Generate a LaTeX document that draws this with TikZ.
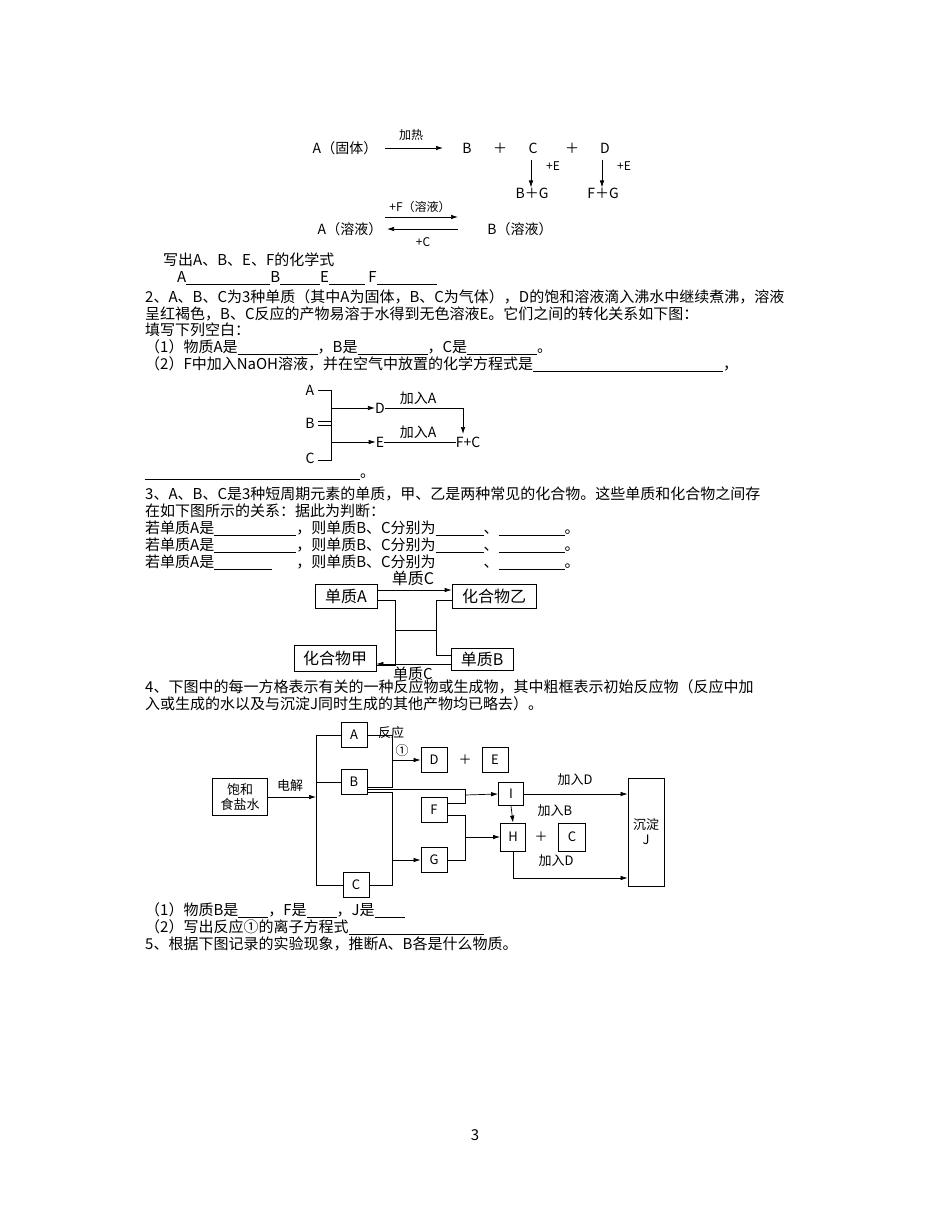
\documentclass[tikz,border=0pt]{standalone}
\usepackage{fontspec}
\setmainfont{Noto Sans CJK SC}
\usetikzlibrary{arrows.meta}
\newcommand\bl[1]{\rule[-2pt]{#1pt}{0.6pt}}
\begin{document}
\begin{tikzpicture}[x=1pt,y=-1pt,font=\fontsize{15}{17}\selectfont,
 tx/.style={anchor=west,inner sep=0pt},
 lb/.style={inner sep=0pt},
 bx/.style={draw,line width=0.8pt,inner sep=0pt,minimum width=26pt,minimum height=25pt},
 ar/.style={-{Latex[length=7pt,width=4.5pt]}},
 ln/.style={line width=0.7pt}]
\useasboundingbox[fill=white] (0,0) rectangle (950,1222);
% diagram 1
\begin{scope}[font=\fontsize{14}{16}\selectfont]
\node[lb] (a1) at (345,148) {A（固体）};
\node[lb] (b1) at (467,148) {B};
\node[lb] (p1) at (500,148) {＋};
\node[lb] (c1) at (533,148) {C};
\node[lb] (p2) at (572,148) {＋};
\node[lb] (d1) at (605,148) {D};
\node[lb] (bg) at (532,193) {B＋G};
\node[lb] (fg) at (603,193) {F＋G};
\node[lb] (a2) at (350,229) {A（溶液）};
\node[lb] (b2) at (520,229) {B（溶液）};
\end{scope}
\draw[ln,ar] (385,148) coordinate (h1) -- (443,148) coordinate (h2);
\node[lb,font=\fontsize{12}{13}\selectfont] at (411,135) {加热};
\draw[ln,ar] (531,160) coordinate (c1b) -- (bg.north -| c1b);
\draw[ln,ar] (602,160) coordinate (d1b) -- (fg.north -| d1b);
\node[lb,font=\fontsize{12}{13}\selectfont] at (553,166) {+E};
\node[lb,font=\fontsize{12}{13}\selectfont] at (624,166) {+E};
\draw[ln,ar] (385,217) coordinate (u1) -- (458,217) coordinate (u2);
\draw[ln,ar] (458,229) coordinate (l1) -- (387,229) coordinate (l2);
\node[lb,font=\fontsize{12}{13}\selectfont] at (420,207) {+F（溶液）};
\node[lb,font=\fontsize{12}{13}\selectfont] at (423,242) {+C};
% text
\node[tx] (t1) at (163,260) {写出A、B、E、F的化学式};
\node[tx] (t2) at (177,278) {A\bl{84}B\bl{40}E\bl{36} F\bl{60}};
\node[tx] (t3) at (145,297) {2、A、B、C为3种单质（其中A为固体，B、C为气体），D的饱和溶液滴入沸水中继续煮沸，溶液};
\node[tx] (t4) at (145,314) {呈红褐色，B、C反应的产物易溶于水得到无色溶液E。它们之间的转化关系如下图：};
\node[tx] (t5) at (145,330) {填写下列空白：};
\node[tx] (t6) at (145,347) {（1）物质A是\bl{80}，B是\bl{70}，C是\bl{70}。};
\node[tx] (t7) at (145,364) {（2）F中加入NaOH溶液，并在空气中放置的化学方程式是\bl{190}，};
% diagram 2
\begin{scope}[font=\fontsize{14}{16}\selectfont]
\node[lb] (A2) at (310,390) {A};
\node[lb] (B2) at (310,423) {B};
\node[lb] (C2) at (310,458) {C};
\node[lb] (D2) at (380,408) {D};
\node[lb] (E2) at (380,442) {E};
\node[lb] (FC) at (468,442) {F+C};
\node[lb] at (418,398) {加入A};
\node[lb] at (418,432) {加入A};
\end{scope}
\draw[ln] (318,390) -- (331,390) -- (331,460) -- (318,460);
\draw[ln] (318,421) -- (331,421) (318,425) -- (331,425);
\draw[ln,ar] (331,408) -- (D2.west);
\draw[ln,ar] (331,442) -- (E2.west);
\draw[ln,ar] (D2.east) -- (463,408) -- (463,434);
\draw[ln] (E2.east) -- (FC.west);
\node[tx] (t8) at (145,477) {\bl{215}。};
% text 3
\node[tx] (t9) at (145,494) {3、A、B、C是3种短周期元素的单质，甲、乙是两种常见的化合物。这些单质和化合物之间存};
\node[tx] (t10) at (145,511) {在如下图所示的关系：据此为判断：};
\node[tx] (t11) at (145,528) {若单质A是\bl{82}，则单质B、C分别为\bl{48}、\bl{66}。};
\node[tx] (t12) at (145,545) {若单质A是\bl{82}，则单质B、C分别为\bl{48}、\bl{66}。};
\node[tx] (t13) at (145,562) {若单质A是\bl{58}\hspace{24pt}，则单质B、C分别为\hspace{48pt}、\bl{66}。};
% diagram 3
\begin{scope}[font=\fontsize{16}{18}\selectfont]
\node[draw,ln,minimum width=62pt,minimum height=24pt,inner sep=0pt] (SA) at (346,596) {单质A};
\node[draw,ln,minimum width=84pt,minimum height=24pt,inner sep=0pt] (HY) at (494,596) {化合物乙};
\node[draw,ln,minimum width=82pt,minimum height=26pt,inner sep=0pt] (HJ) at (335,658) {化合物甲};
\node[draw,ln,minimum width=62pt,minimum height=22pt,inner sep=0pt] (SB) at (482,659) {单质B};
\node[lb] at (413,578) {单质C};
\node[lb,font=\fontsize{15}{16}\selectfont] at (413,674) {单质C};
\end{scope}
\draw[ln,ar] (SA.east |- 0,590) -- (HY.west |- 0,590);
\draw[ln,ar] (SB.west |- 0,664) -- (HJ.east |- 0,664);
\draw[ln] (SA.east |- 0,600) -- (395,600) -- (395,665) -- (HJ.east |- 0,665);
\draw[ln] (HY.west |- 0,600) -- (436,600) -- (436,655) -- (SB.west |- 0,655);
\draw[ln] (395,630) -- (436,630);
\node[tx] (t14) at (145,687) {4、下图中的每一方格表示有关的一种反应物或生成物，其中粗框表示初始反应物（反应中加};
\node[tx] (t15) at (145,704) {入或生成的水以及与沉淀J同时生成的其他产物均已略去）。};
% diagram 4
\begin{scope}[font=\fontsize{13}{15}\selectfont]
\node[bx,minimum width=55pt,minimum height=37pt,align=center] (S) at (240,797) {饱和\\食盐水};
\node[bx] (A) at (354,735) {A};
\node[bx] (B) at (354,782) {B};
\node[bx] (C) at (356,885) {C};
\node[bx] (D) at (434,760) {D};
\node[bx] (E) at (495,760) {E};
\node[lb] at (465,760) {＋};
\node[bx,minimum width=25pt,minimum height=23pt] (I) at (511,794) {I};
\node[bx] (F) at (434,810) {F};
\node[bx,minimum width=25pt,minimum height=28pt] (H) at (513,837) {H};
\node[lb] at (541,837) {＋};
\node[bx,minimum width=27pt,minimum height=28pt] (C3) at (572,837) {C};
\node[bx] (G) at (434,860) {G};
\node[bx,minimum width=36pt,minimum height=108pt,align=center] (J) at (646,832) {沉淀\\J};
\node[lb] at (290,786) {电解};
\node[lb] at (391,733) {反应};
\node[lb] at (402,751) {①};
\node[lb] at (575,780) {加入D};
\node[lb] at (555,811) {加入B};
\node[lb] at (556,861) {加入D};
\end{scope}
\draw[ln,ar] (S.east) -- (316,797);
\draw[ln] (A.west) -- (316,735) -- (316,885) -- (C.west);
\draw[ln] (316,782) -- (B.west);
\draw[ln] (A.east) -- (392,735) -- (392,787) -- (B.east |- 0,787);
\draw[ln,ar] (392,760) -- (D.west);
\draw[ln] (B.east |- 0,789) -- (465,789) -- (465,803) -- (F.east |- 0,803);
\draw[ln,ar] (465,795) -- (I.west);
\draw[ln] (B.east |- 0,792) -- (392,792) -- (392,885) -- (C.east);
\draw[ln,ar] (392,860) -- (G.west);
\draw[ln] (F.east |- 0,815) -- (465,815) -- (465,860) -- (G.east);
\draw[ln,ar] (465,837) -- (H.west);
\draw[ln,ar] (I.east) -- (J.west |- I.east);
\draw[ln,ar] (I.south) -- (H.north);
\draw[ln,ar] (H.south) -- (513,878) -- (J.west |- 0,878);
\node[tx] (t16) at (145,910) {（1）物质B是\bl{30}，F是\bl{30}，J是\bl{30}};
\node[tx] (t17) at (145,927) {（2）写出反应①的离子方程式\bl{135}};
\node[tx] (t18) at (145,944) {5、根据下图记录的实验现象，推断A、B各是什么物质。};
\node[lb] (pg) at (475,1135) {3};
\end{tikzpicture}
\end{document}
